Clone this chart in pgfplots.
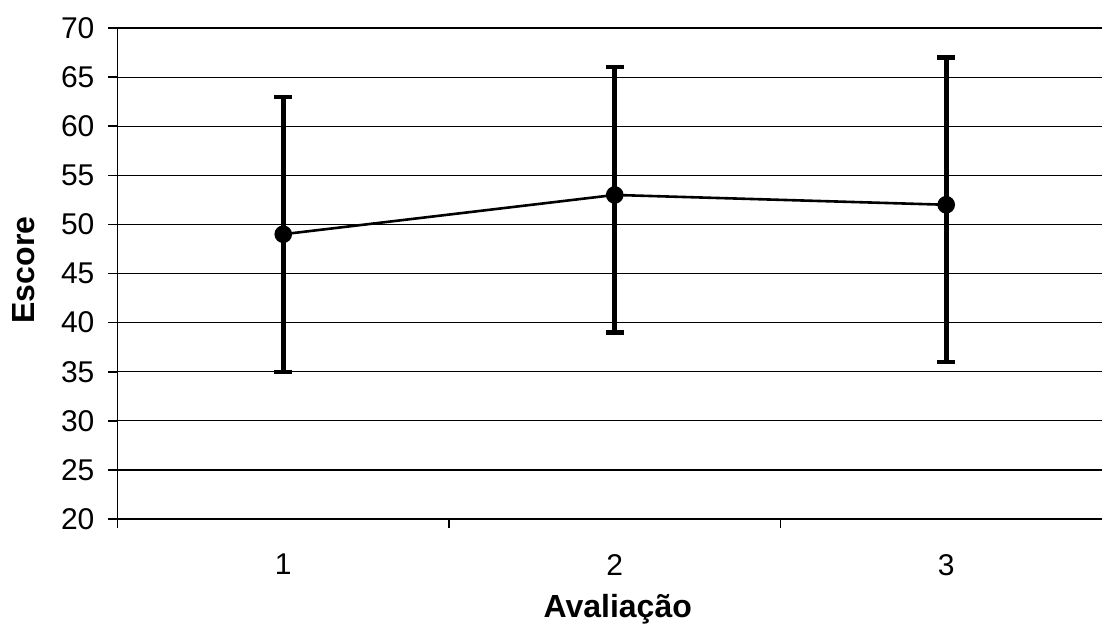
\documentclass[border=0pt]{standalone}
\usepackage{fontspec}
\setmainfont{Liberation Sans}
\usepackage{pgfplots}
\pgfplotsset{compat=1.18}
\begin{document}
\begin{tikzpicture}
\begin{axis}[
  name=ax,
  width=492.25pt, height=245.5pt, scale only axis,
  xmin=0.5, xmax=3.47, ymin=20, ymax=70,
  axis x line=bottom, axis y line=left,
  axis line style={-, line width=0.8pt},
  ytick={20,25,...,70},
  xtick={0.5,1.5,2.5}, xticklabels={},
  extra x ticks={1,2,3}, extra x tick labels={1,2,3},
  extra x tick style={major tick length=0pt, xticklabel style={yshift=-14pt}},
  tick align=outside, major tick length=4.5pt,
  tick style={black, line width=0.8pt},
  ymajorgrids, grid style={black, line width=0.6pt},
  /pgf/number format/assume math mode=true,
  tick label style={font=\fontsize{15}{17}\selectfont},
  yticklabel style={xshift=-3.5pt},
  label style={font=\bfseries\fontsize{16}{18}\selectfont},
  xlabel={Avaliação}, ylabel={Escore},
  xlabel style={at={([xshift=4pt,yshift=-49pt]axis description cs:0.5,0)}, anchor=base},
  ylabel style={at={([xshift=-47pt,yshift=1.75pt]axis description cs:0,0.5)}, anchor=center},
  clip=false,
]
\addplot[black, line width=1.3pt, mark=*, mark size=3.75pt,
  error bars/.cd, y dir=both, y explicit,
  error bar style={line width=2.6pt},
  error mark options={line width=2.2pt, mark size=4.5pt, rotate=90}]
  table[x=x, y=y, y error plus=ep, y error minus=em] {
  x y ep em
  1 49 14 14
  2 53 13 14
  3 52 15 16
  };
\end{axis}
\pgfresetboundingbox
\path ([shift={(-58.75pt,-54pt)}]ax.south west) rectangle ([shift={(0pt,14pt)}]ax.north east);
\end{tikzpicture}
\end{document}
